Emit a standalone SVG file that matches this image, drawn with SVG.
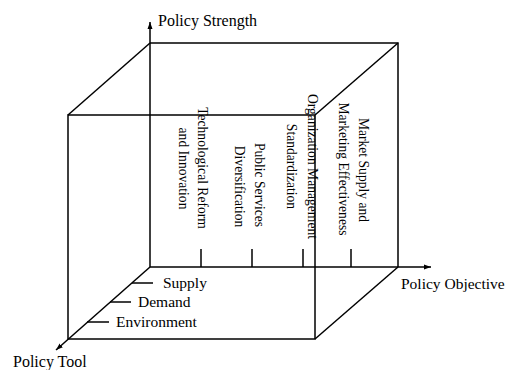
<svg xmlns="http://www.w3.org/2000/svg" width="507" height="370" viewBox="0 0 507 370">
  <defs>
    <marker id="arrow" markerWidth="8" markerHeight="8" refX="7" refY="4" orient="auto" markerUnits="userSpaceOnUse">
      <path d="M0,1.5 L7,4 L0,6.5 Z" fill="#000"/>
    </marker>
    <style>
      .edge { stroke: #000; stroke-width: 1.5; fill: none; }
      .tick { stroke: #000; stroke-width: 1.5; }
      .lbl { font-family: "Liberation Serif", "Times New Roman", serif; fill: #000; }
      .axis { font-size: 16px; }
      .tool { font-size: 15.5px; }
      .vt { font-size: 13.6px; text-anchor: middle; }
    </style>
  </defs>

  <rect width="507" height="370" fill="#fff"/>

  <!-- cube edges and axes -->
  <g id="connectors">
    <!-- back face (top and right edges) -->
    <path class="edge" d="M150,43 H398 V267"/>
    <!-- front face -->
    <rect class="edge" x="68" y="115" width="247" height="224"/>
    <!-- depth edges -->
    <line class="edge" x1="150" y1="43" x2="68" y2="115"/>
    <line class="edge" x1="398" y1="43" x2="315" y2="115"/>
    <line class="edge" x1="398" y1="267" x2="315" y2="339"/>
    <!-- axes -->
    <line class="edge" x1="150" y1="267" x2="150" y2="22" marker-end="url(#arrow)"/>
    <line class="edge" x1="150" y1="267" x2="431" y2="267" marker-end="url(#arrow)"/>
    <line class="edge" x1="150" y1="267" x2="56" y2="350" marker-end="url(#arrow)"/>
    <!-- ticks on the objective axis -->
    <line class="tick" x1="201" y1="249" x2="201" y2="267"/>
    <line class="tick" x1="252" y1="249" x2="252" y2="267"/>
    <line class="tick" x1="303" y1="249" x2="303" y2="267"/>
    <line class="tick" x1="351" y1="249" x2="351" y2="267"/>
    <!-- ticks on the tool axis -->
    <line class="tick" x1="132" y1="283" x2="153" y2="283"/>
    <line class="tick" x1="110" y1="302" x2="131" y2="302"/>
    <line class="tick" x1="87" y1="322" x2="109" y2="322"/>
  </g>

  <!-- axis titles -->
  <g id="policy-strength"><text class="lbl axis" x="158" y="26">Policy Strength</text></g>
  <g id="policy-objective"><text class="lbl axis" x="401" y="289" style="font-size:15.5px">Policy Objective</text></g>
  <g id="policy-tool"><text class="lbl axis" x="13" y="367">Policy Tool</text></g>

  <!-- policy tool categories -->
  <g id="supply"><text class="lbl tool" x="163" y="288">Supply</text></g>
  <g id="demand"><text class="lbl tool" x="138" y="307">Demand</text></g>
  <g id="environment"><text class="lbl tool" x="116" y="327">Environment</text></g>

  <!-- policy objective categories (vertical) -->
  <g id="tech-reform">
    <text class="lbl vt" transform="translate(197.5,168) rotate(90)">Technological Reform</text>
    <text class="lbl vt" transform="translate(178.5,168.5) rotate(90)">and Innovation</text>
  </g>
  <g id="public-services">
    <text class="lbl vt" transform="translate(255,185) rotate(90)">Public Services</text>
    <text class="lbl vt" transform="translate(235,186.5) rotate(90)">Diversification</text>
  </g>
  <g id="org-management">
    <text class="lbl vt" transform="translate(307.5,166.5) rotate(90)">Organization Management</text>
    <text class="lbl vt" transform="translate(287,166.5) rotate(90)">Standardization</text>
  </g>
  <g id="market-supply">
    <text class="lbl vt" transform="translate(359,170) rotate(90)">Market Supply and</text>
    <text class="lbl vt" transform="translate(339,169) rotate(90)">Marketing Effectiveness</text>
  </g>
</svg>
